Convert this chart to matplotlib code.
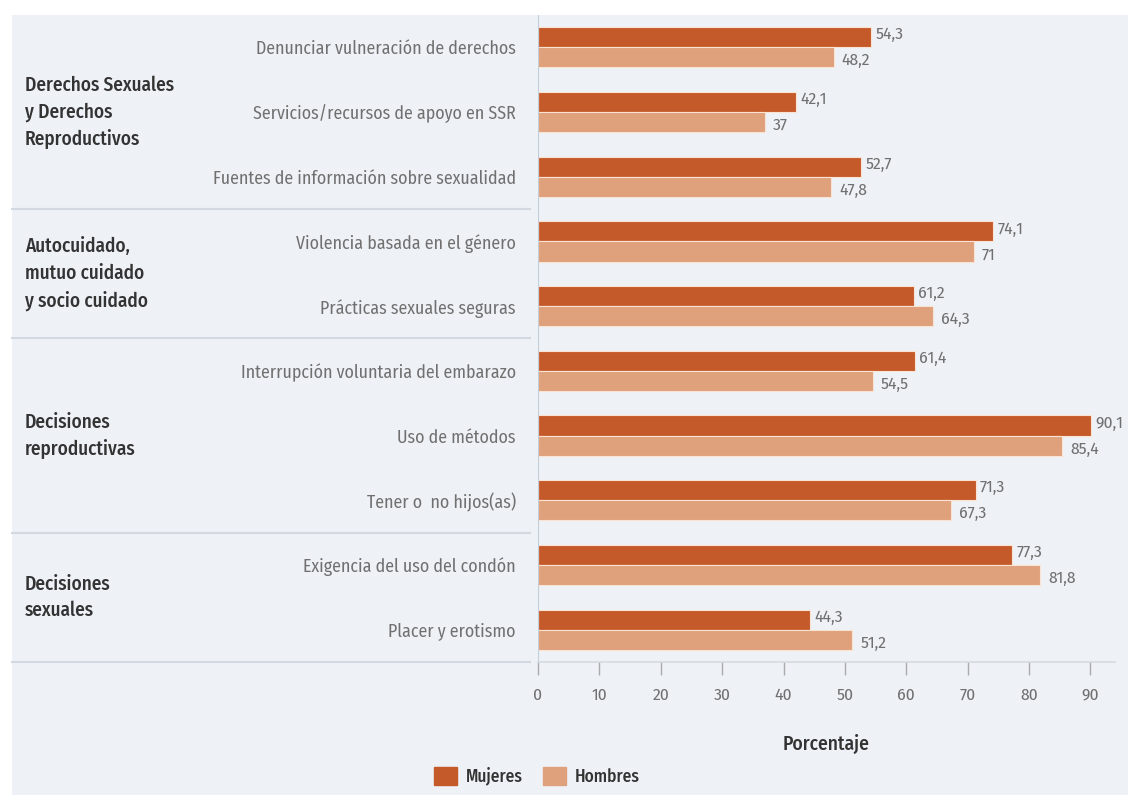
import matplotlib.pyplot as plt
import matplotlib.transforms as mtransforms
from matplotlib.patches import Rectangle, Patch
import numpy as np

# ---------- DATOS ----------
items = [
    "Denunciar vulneración de derechos",
    "Servicios/recursos de apoyo en SSR",
    "Fuentes de información sobre sexualidad",
    "Violencia basada en el género",
    "Prácticas sexuales seguras",
    "Interrupción voluntaria del embarazo",
    "Uso de métodos",
    "Tener o  no hijos(as)",
    "Exigencia del uso del condón",
    "Placer y erotismo",
]
mujeres = [54.3, 42.1, 52.7, 74.1, 61.2, 61.4, 90.1, 71.3, 77.3, 44.3]
hombres = [48.2, 37.0, 47.8, 71.0, 64.3, 54.5, 85.4, 67.3, 81.8, 51.2]

grupos = [
    "Derechos Sexuales\ny Derechos\nReproductivos",
    "Autocuidado,\nmutuo cuidado\ny socio cuidado",
    "Decisiones\nreproductivas",
    "Decisiones\nsexuales",
]
grupo_n = [3, 2, 3, 2]  # items por grupo

xticks = [0, 10, 20, 30, 40, 50, 60, 70, 80, 90]

# ---------- ESTILO ----------
plt.rcParams['font.family'] = ['Fira Sans Condensed', 'DejaVu Sans']
bg = "#eef2f6"
c_muj = "#c45a2a"
c_hom = "#dfa07c"
gris_txt = "#707070"
gris_osc = "#333333"

fig = plt.figure(figsize=(11.28, 7.95), dpi=100, facecolor="white")
# panel de fondo
fig.patches.append(Rectangle((12 / 1128, 0), 1 - 12 / 1128, 1 - 15 / 795,
                             transform=fig.transFigure, facecolor=bg,
                             edgecolor="none", zorder=-10))

ax = fig.add_axes([538 / 1128, 1 - 662 / 795, (1115 - 538) / 1128, (662 - 15) / 795])
ax.set_facecolor("none")

y = np.arange(len(items))
h = 0.31
ax.barh(y - h / 2, mujeres, height=h, color=c_muj, edgecolor="#fbe3d3", linewidth=0.8, label="Mujeres")
ax.barh(y + h / 2, hombres, height=h, color=c_hom, edgecolor="#fbe3d3", linewidth=0.8, label="Hombres")

for yi, m, hv in zip(y, mujeres, hombres):
    ax.text(m + 0.7, yi - h / 2 - 0.04, f"{m:g}".replace(".", ","), va="center", ha="left",
            fontsize=12.5, color=gris_txt)
    ax.text(hv + 1.3, yi + h / 2 + 0.05, f"{hv:g}".replace(".", ","), va="center", ha="left",
            fontsize=12.5, color=gris_txt)

ax.set_xlim(0, 94)
ax.set_ylim(9.5, -0.5)
ax.set_yticks(y)
ax.set_yticklabels(items, fontsize=12.8, color=gris_txt)
ax.tick_params(axis="y", length=0, pad=16)
ax.set_xticks(xticks)
ax.set_xticklabels([str(t) for t in xticks], fontsize=12.5, color=gris_txt)
ax.tick_params(axis="x", length=9, width=1, color="#aaaaaa", pad=9, direction="out")

for s in ["top", "right"]:
    ax.spines[s].set_visible(False)
ax.spines["left"].set_color("#c5ced8")
ax.spines["bottom"].set_color("#d5dbe2")
ax.spines["bottom"].set_linewidth(1.2)

ax.set_xlabel("Porcentaje", fontsize=14, color=gris_osc, fontweight="medium", labelpad=22)

# separadores y etiquetas de grupo
trans = mtransforms.blended_transform_factory(fig.transFigure, ax.transData)
inicio = 0
for g, n in zip(grupos, grupo_n):
    fin = inicio + n
    ax.text(25 / 1128, (inicio + fin - 1) / 2, g, transform=trans, ha="left", va="center",
            fontsize=13.8, color=gris_osc, fontweight="medium", linespacing=1.45)
    ax.plot([12 / 1128, 530 / 1128], [fin - 0.5, fin - 0.5], transform=trans,
            color="#d3d9e0", lw=1.5, clip_on=False)
    inicio = fin

fig.legend(handles=[Patch(color=c_muj, label="Mujeres"), Patch(color=c_hom, label="Hombres")],
           loc="center", bbox_to_anchor=(537 / 1128, 1 - 776 / 795), ncol=2, frameon=False,
           prop={"size": 12.5, "weight": "medium"}, handlelength=1.3, handleheight=1.3,
           columnspacing=1.2, handletextpad=0.5, labelcolor=gris_osc)

fig.savefig("out.png", dpi=100, facecolor="white")
